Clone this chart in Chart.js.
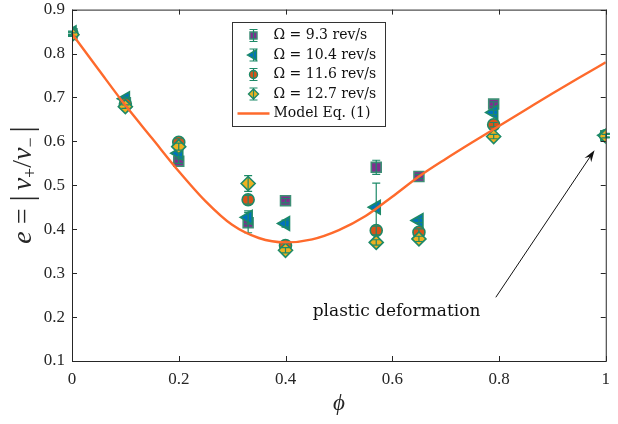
<!DOCTYPE html>
<html>
<head>
<meta charset="utf-8">
<script src="https://cdn.jsdelivr.net/npm/chart.js@4"></script>
<style>
  body { margin: 0; background: #fff; }
  #wrap { width: 618px; height: 424px; position: relative; }
</style>
</head>
<body>
<div id="wrap"><canvas id="myChart"></canvas></div>
<script>
// measured data
var phi = [0, 0.1, 0.2, 0.33, 0.4, 0.57, 0.65, 0.79, 1];
var e93 = [0.845, 0.688, 0.555, 0.415, 0.465, 0.541, 0.520, 0.685, 0.613];
var e104 = [0.847, 0.697, 0.573, 0.427, 0.413, 0.450, 0.420, 0.666, 0.614];
var e116 = [0.845, 0.685, 0.598, 0.467, 0.363, 0.397, 0.393, 0.638, 0.613];
var e127 = [0.843, 0.679, 0.588, 0.504, 0.352, 0.370, 0.378, 0.611, 0.612];

var err93 = [0.004, 0.004, 0.005, 0.023, 0.005, 0.016, 0.005, 0.005, 0.004];
var err104 = [0.004, 0.004, 0.008, 0.015, 0.008, 0.055, 0.005, 0.005, 0.004];
var err116 = [0.004, 0.004, 0.008, 0.010, 0.005, 0.010, 0.008, 0.005, 0.004];
var err127 = [0.004, 0.004, 0.008, 0.018, 0.006, 0.006, 0.006, 0.005, 0.004];

// model curve
var modelPhi = [0, 0.05, 0.1, 0.15, 0.2, 0.25, 0.3, 0.35, 0.4, 0.45, 0.5, 0.55, 0.6, 0.65, 0.7, 0.75, 0.8, 0.85, 0.9, 0.95, 1];
var modelE = [0.845, 0.763, 0.682, 0.607, 0.532, 0.464, 0.410, 0.380, 0.370, 0.377, 0.398, 0.430, 0.474, 0.520, 0.560, 0.598, 0.635, 0.672, 0.709, 0.745, 0.780];

var seriesLabels = ['\u03A9 = 9.3 rev/s', '\u03A9 = 10.4 rev/s', '\u03A9 = 11.6 rev/s', '\u03A9 = 12.7 rev/s'];
var modelLabel = 'Model Eq. (1)';

var teal = '#1d8a68';
var serif = '"Liberation Serif", "DejaVu Serif", serif';
var wide = '"DejaVu Serif", serif';

function pts(xs, ys) {
    return xs.map(function (x, i) { return { x: x, y: ys[i] }; });
}

var styles = [
    { pointStyle: 'rect', rotation: 0, radius: 7, face: '#7e2f8e', edge: '#3f8f76' },
    { pointStyle: 'triangle', rotation: -90, radius: 8, face: '#0072bd', edge: teal },
    { pointStyle: 'circle', rotation: 0, radius: 6, face: '#d95319', edge: teal },
    { pointStyle: 'rectRot', rotation: 0, radius: 7, face: '#edb120', edge: teal }
];
var values = [e93, e104, e116, e127];
var errs = [err93, err104, err116, err127];

var datasets = [{
    type: 'line',
    label: modelLabel,
    data: pts(modelPhi, modelE),
    borderColor: '#fe6a2c',
    borderWidth: 2.4,
    pointRadius: 0,
    cubicInterpolationMode: 'monotone',
    order: 0
}];

for (var i = 0; i < 4; i++) {
    datasets.push({
        type: 'scatter',
        label: seriesLabels[i],
        data: pts(phi, values[i]),
        err: errs[i],
        pointStyle: styles[i].pointStyle,
        rotation: styles[i].rotation,
        pointRadius: styles[i].radius,
        pointHoverRadius: styles[i].radius,
        backgroundColor: styles[i].face,
        borderColor: styles[i].edge,
        pointBorderWidth: 1.6,
        order: 4 - i
    });
}

function errBar(ctx, x, y1, y2, cap) {
    ctx.beginPath();
    ctx.moveTo(x, y1); ctx.lineTo(x, y2);
    ctx.moveTo(x - cap, y1); ctx.lineTo(x + cap, y1);
    ctx.moveTo(x - cap, y2); ctx.lineTo(x + cap, y2);
    ctx.stroke();
}

const extras = {
    id: 'extras',
    afterDatasetDraw: function (chart, args) {
        var ds = chart.data.datasets[args.index];
        if (!ds.err) return;
        var ctx = chart.ctx, xs = chart.scales.x, ys = chart.scales.y;
        ctx.save();
        ctx.strokeStyle = teal;
        ctx.lineWidth = 1.2;
        ds.data.forEach(function (p, k) {
            var px = xs.getPixelForValue(p.x);
            errBar(ctx, px, ys.getPixelForValue(p.y + ds.err[k]), ys.getPixelForValue(p.y - ds.err[k]), 4);
        });
        ctx.restore();
    },
    afterDraw: function (chart) {
        var ctx = chart.ctx, a = chart.chartArea, xs = chart.scales.x, ys = chart.scales.y;
        ctx.save();
        // box + inward ticks
        ctx.strokeStyle = '#262626';
        ctx.lineWidth = 1;
        ctx.strokeRect(a.left + 0.5, a.top + 0.5, a.right - a.left, a.bottom - a.top);
        ctx.beginPath();
        xs.ticks.forEach(function (t) {
            var px = Math.round(xs.getPixelForValue(t.value)) + 0.5;
            ctx.moveTo(px, a.bottom); ctx.lineTo(px, a.bottom - 5);
            ctx.moveTo(px, a.top); ctx.lineTo(px, a.top + 5);
        });
        ys.ticks.forEach(function (t) {
            var py = Math.round(ys.getPixelForValue(t.value)) + 0.5;
            ctx.moveTo(a.left, py); ctx.lineTo(a.left + 5, py);
            ctx.moveTo(a.right, py); ctx.lineTo(a.right - 5, py);
        });
        ctx.stroke();

        // x title
        ctx.fillStyle = '#262626';
        ctx.font = 'italic 23px ' + serif;
        ctx.textAlign = 'center';
        ctx.textBaseline = 'middle';
        ctx.fillText('\u03D5', (a.left + a.right) / 2, 404);

        // y title, pieced together
        var parts = [
            { t: 'e', f: 'italic 28px ', dy: 0 },
            { t: ' = ', f: '28px ', dy: 0 },
            { t: '|', f: '31px ', dy: 1 },
            { t: ' ', f: '20px ', dy: 0 },
            { t: 'v', f: 'italic 28px ', dy: 0 },
            { t: '+', f: '18px ', dy: 5 },
            { t: '/', f: '28px ', dy: 0 },
            { t: 'v', f: 'italic 28px ', dy: 0 },
            { t: '\u2212', f: '18px ', dy: 5 },
            { t: ' ', f: '20px ', dy: 0 },
            { t: '|', f: '31px ', dy: 1 }
        ];
        var total = 0;
        parts.forEach(function (p) { ctx.font = p.f + serif; p.w = ctx.measureText(p.t).width; total += p.w; });
        ctx.translate(25, 185);
        ctx.rotate(-Math.PI / 2);
        ctx.textAlign = 'left';
        ctx.textBaseline = 'alphabetic';
        var cx = -total / 2;
        parts.forEach(function (p) {
            ctx.font = p.f + serif;
            ctx.fillText(p.t, cx, 6 + p.dy);
            cx += p.w;
        });
        ctx.setTransform(1, 0, 0, 1, 0, 0);

        // legend
        var lx = 232.5, ly = 22.5, lw = 153, lh = 104;
        ctx.fillStyle = '#fff';
        ctx.fillRect(lx, ly, lw, lh);
        ctx.strokeStyle = '#333';
        ctx.lineWidth = 1;
        ctx.strokeRect(lx, ly, lw, lh);
        ctx.font = '14px ' + wide;
        ctx.textBaseline = 'middle';
        for (var s = 0; s < 4; s++) {
            var ry = ly + 13 + s * 19.5;
            ctx.fillStyle = styles[s].face;
            ctx.strokeStyle = styles[s].edge;
            ctx.lineWidth = 1.4;
            Chart.helpers.drawPoint(ctx, {
                pointStyle: styles[s].pointStyle,
                rotation: styles[s].rotation,
                radius: styles[s].radius - 2,
                borderWidth: 1.4
            }, lx + 21, ry);
            ctx.strokeStyle = teal;
            ctx.lineWidth = 1.2;
            errBar(ctx, lx + 21, ry - 6, ry + 6, 4);
            ctx.fillStyle = '#111';
            ctx.fillText(seriesLabels[s], lx + 41, ry);
        }
        var my = ly + 13 + 4 * 19.5;
        ctx.strokeStyle = '#fe6a2c';
        ctx.lineWidth = 2.4;
        ctx.beginPath();
        ctx.moveTo(lx + 5, my); ctx.lineTo(lx + 37, my);
        ctx.stroke();
        ctx.fillStyle = '#111';
        ctx.fillText(modelLabel, lx + 41, my);

        // annotation
        ctx.font = '17px ' + wide;
        ctx.textAlign = 'center';
        ctx.fillText('plastic deformation', xs.getPixelForValue(0.608), ys.getPixelForValue(0.213));
        var x1 = xs.getPixelForValue(0.794), y1 = ys.getPixelForValue(0.245);
        var x2 = xs.getPixelForValue(0.979), y2 = ys.getPixelForValue(0.58);
        var ang = Math.atan2(y2 - y1, x2 - x1);
        ctx.strokeStyle = '#111';
        ctx.lineWidth = 1;
        ctx.beginPath();
        ctx.moveTo(x1, y1);
        ctx.lineTo(x2 - 8 * Math.cos(ang), y2 - 8 * Math.sin(ang));
        ctx.stroke();
        ctx.fillStyle = '#111';
        ctx.beginPath();
        ctx.moveTo(x2, y2);
        ctx.lineTo(x2 - 12 * Math.cos(ang) + 4 * Math.sin(ang), y2 - 12 * Math.sin(ang) - 4 * Math.cos(ang));
        ctx.lineTo(x2 - 8 * Math.cos(ang), y2 - 8 * Math.sin(ang));
        ctx.lineTo(x2 - 12 * Math.cos(ang) - 4 * Math.sin(ang), y2 - 12 * Math.sin(ang) + 4 * Math.cos(ang));
        ctx.closePath();
        ctx.fill();
        ctx.restore();
    }
};

const config = {
    type: 'scatter',
    data: { datasets: datasets },
    options: {
        responsive: true,
        maintainAspectRatio: false,
        animation: false,
        layout: { padding: { top: 0, right: 11, left: 0, bottom: 0 } },
        plugins: { legend: { display: false }, tooltip: { enabled: false } },
        scales: {
            x: {
                type: 'linear', min: 0, max: 1,
                grid: { display: false, drawTicks: false },
                border: { display: false },
                ticks: {
                    stepSize: 0.2, padding: 8, color: '#262626', maxRotation: 0,
                    font: { family: serif, size: 17 },
                    callback: function (v) { return +v.toFixed(1); }
                },
                afterFit: function (sc) { sc.height = 63; }
            },
            y: {
                type: 'linear', min: 0.1, max: 0.9,
                grid: { display: false, drawTicks: false },
                border: { display: false },
                ticks: {
                    stepSize: 0.1, padding: 7, color: '#262626',
                    font: { family: serif, size: 17 },
                    callback: function (v) { return v.toFixed(1); }
                },
                afterFit: function (sc) {
                    sc.width = 72;
                    sc.paddingTop = 9;
                    sc.paddingBottom = 0;
                }
            }
        }
    },
    plugins: [extras]
};

const myChart = new Chart(document.getElementById('myChart'), config);
</script>
</body>
</html>
